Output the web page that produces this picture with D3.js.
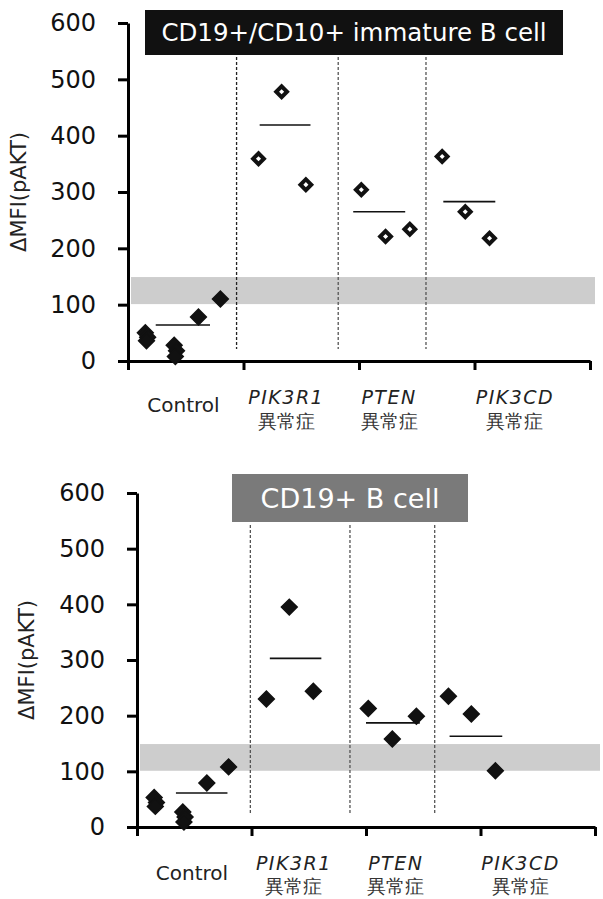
<!DOCTYPE html>
<html>
<head>
<meta charset="utf-8">
<script src="https://cdn.jsdelivr.net/npm/d3@7"></script>
<style>
  body { margin: 0; background: #fff; }
  svg { display: block; }
  text { font-family: "DejaVu Sans", Verdana, sans-serif; }
</style>
</head>
<body>
<svg id="chart" width="603" height="899"></svg>
<script>
// ---- Data ----
const categories = ["Control", "PIK3R1", "PTEN", "PIK3CD"];
const categorySub = ["", "異常症", "異常症", "異常症"];
const labelPos = [0.48, 1.37, 2.26, 3.35];
const yTicks = [0, 100, 200, 300, 400, 500, 600];
const normalRange = [101, 149];

// x in category units (jittered positions within each group)
const controlX = [0.15, 0.17, 0.16, 0.40, 0.42, 0.41, 0.61, 0.80];
const pik3r1X = [1.13, 1.33, 1.54];
const ptenX = [2.02, 2.23, 2.44];
const pik3cdX = [2.72, 2.92, 3.13];

// CD19+/CD10+ immature B cell
const immControl = [50, 42, 36, 28, 18, 8, 78, 110];
const immPik3r1 = [359, 478, 313];
const immPten = [304, 221, 234];
const immPik3cd = [363, 265, 218];
const immMeans = [64, 419, 265, 283];
const immMeanSpan = [[0.24, 0.71], [1.14, 1.58], [1.95, 2.40], [2.73, 3.18]];
const immSeparators = [0.94, 1.82, 2.58];

// CD19+ B cell
const bControl = [53, 44, 37, 27, 18, 9, 79, 108];
const bPik3r1 = [230, 395, 244];
const bPten = [213, 158, 199];
const bPik3cd = [235, 203, 101];
const bMeans = [61, 303, 187, 163];
const bMeanSpan = [[0.34, 0.79], [1.16, 1.61], [2.00, 2.47], [2.73, 3.19]];
const bSeparators = [0.99, 1.86, 2.60];

const svg = d3.select("#chart");

function drawPanel(p) {
    const g = svg.append("g");
    const x = d3.scaleLinear().domain([0, 4]).range([p.left, p.right]);
    const y = d3.scaleLinear().domain([0, 600]).range([p.bottom, p.top]);

    // ---- normal range band ----
    g.append("rect")
        .attr("x", p.left + 3)
        .attr("y", y(normalRange[1]))
        .attr("width", p.right + 5 - p.left - 3)
        .attr("height", y(normalRange[0]) - y(normalRange[1]))
        .attr("fill", "#cdcdcd");

    // ---- title box ----
    g.append("rect")
        .attr("x", p.titleX0).attr("y", p.titleY0)
        .attr("width", p.titleX1 - p.titleX0)
        .attr("height", p.titleY1 - p.titleY0)
        .attr("fill", p.titleFill);
    g.append("text")
        .attr("x", (p.titleX0 + p.titleX1) / 2)
        .attr("y", (p.titleY0 + p.titleY1) / 2)
        .attr("dy", "0.36em")
        .attr("text-anchor", "middle")
        .attr("fill", "#fff")
        .attr("font-size", p.titleSize)
        .text(p.title);

    // ---- separators ----
    g.selectAll(".sep")
        .data(p.separators)
        .join("line")
        .attr("class", "sep")
        .attr("x1", d => x(d)).attr("x2", d => x(d))
        .attr("y1", p.sepTop).attr("y2", y(0) - 12)
        .attr("stroke", (d, i) => i === 0 && p.firstDark ? "#222" : "#555")
        .attr("stroke-width", 1.3)
        .attr("stroke-dasharray", "3,2");

    // ---- axes ----
    const yAxis = g.append("g")
        .attr("transform", `translate(${p.left},0)`)
        .call(d3.axisLeft(y).tickValues(yTicks).tickSize(10).tickPadding(22).tickSizeOuter(0));
    yAxis.select(".domain").attr("stroke-width", 3);
    yAxis.selectAll(".tick line").attr("stroke-width", 3);
    yAxis.selectAll(".tick text")
        .attr("font-family", "'DejaVu Sans', sans-serif")
        .attr("font-size", 24)
        .attr("fill", "#111");

    const xAxis = g.append("g")
        .attr("transform", `translate(0,${y(0)})`)
        .call(d3.axisBottom(x).tickValues([0, 1, 2, 3, 4]).tickSize(9).tickFormat("").tickSizeOuter(0));
    xAxis.select(".domain").attr("stroke-width", 3);
    xAxis.selectAll(".tick line").attr("stroke-width", 3);

    g.append("text")
        .attr("transform", `translate(${p.yLabelX},${(p.top + p.bottom) / 2}) rotate(-90)`)
        .attr("text-anchor", "middle")
        .attr("font-size", 21)
        .attr("fill", "#222")
        .text("ΔMFI(pAKT)");

    // ---- category labels ----
    const labels = g.selectAll(".cat")
        .data(categories)
        .join("g")
        .attr("class", "cat")
        .attr("transform", (d, i) => `translate(${x(labelPos[i])},0)`);
    labels.append("text")
        .attr("y", (d, i) => i === 0 ? p.controlY : p.geneY)
        .attr("text-anchor", "middle")
        .attr("font-size", (d, i) => i === 0 ? 20 : 19)
        .attr("letter-spacing", (d, i) => i === 0 ? 0 : 1.5)
        .attr("font-style", (d, i) => i === 0 ? "normal" : "italic")
        .attr("fill", "#222")
        .text(d => d);
    labels.append("text")
        .attr("y", p.subY)
        .attr("text-anchor", "middle")
        .attr("font-family", "'Noto Sans CJK JP', sans-serif")
        .attr("font-size", 19)
        .attr("fill", "#333")
        .text((d, i) => categorySub[i]);

    // ---- mean lines ----
    g.selectAll(".mean")
        .data(p.means)
        .join("line")
        .attr("class", "mean")
        .attr("x1", (d, i) => x(p.meanSpan[i][0]))
        .attr("x2", (d, i) => x(p.meanSpan[i][1]))
        .attr("y1", d => y(d)).attr("y2", d => y(d))
        .attr("stroke", "#111")
        .attr("stroke-width", 1.6);

    // ---- points ----
    const filled = d3.symbol().type(d3.symbolSquare).size(125);
    const open = d3.symbol().type(d3.symbolSquare).size(58);
    const pts = [];
    controlX.forEach((xv, i) => pts.push({ x: xv, v: p.control[i], open: false }));
    pik3r1X.forEach((xv, i) => pts.push({ x: xv, v: p.pik3r1[i], open: p.open }));
    ptenX.forEach((xv, i) => pts.push({ x: xv, v: p.pten[i], open: p.open }));
    pik3cdX.forEach((xv, i) => pts.push({ x: xv, v: p.pik3cd[i], open: p.open }));

    g.selectAll(".pt")
        .data(pts)
        .join("path")
        .attr("class", "pt")
        .attr("d", d => d.open ? open() : filled())
        .attr("transform", d => `translate(${x(d.x)},${y(d.v)}) rotate(45)`)
        .attr("fill", d => d.open ? "#fff" : "#111")
        .attr("stroke", "#111")
        .attr("stroke-width", d => d.open ? 4 : 1.5);
}

drawPanel({
    left: 128, right: 590, top: 23, bottom: 361,
    title: "CD19+/CD10+ immature B cell", titleFill: "#111", titleSize: 24.5,
    titleX0: 145, titleX1: 563, titleY0: 10, titleY1: 55,
    separators: immSeparators, sepTop: 57, firstDark: true,
    yLabelX: 26, controlY: 412, geneY: 404, subY: 428,
    control: immControl, pik3r1: immPik3r1, pten: immPten, pik3cd: immPik3cd,
    means: immMeans, meanSpan: immMeanSpan, open: true
});

drawPanel({
    left: 137, right: 595, top: 493, bottom: 827,
    title: "CD19+ B cell", titleFill: "#7a7a7a", titleSize: 27,
    titleX0: 232, titleX1: 468, titleY0: 474, titleY1: 522,
    separators: bSeparators, sepTop: 525, firstDark: false,
    yLabelX: 34, controlY: 880, geneY: 870, subY: 893,
    control: bControl, pik3r1: bPik3r1, pten: bPten, pik3cd: bPik3cd,
    means: bMeans, meanSpan: bMeanSpan, open: false
});
</script>
</body>
</html>
